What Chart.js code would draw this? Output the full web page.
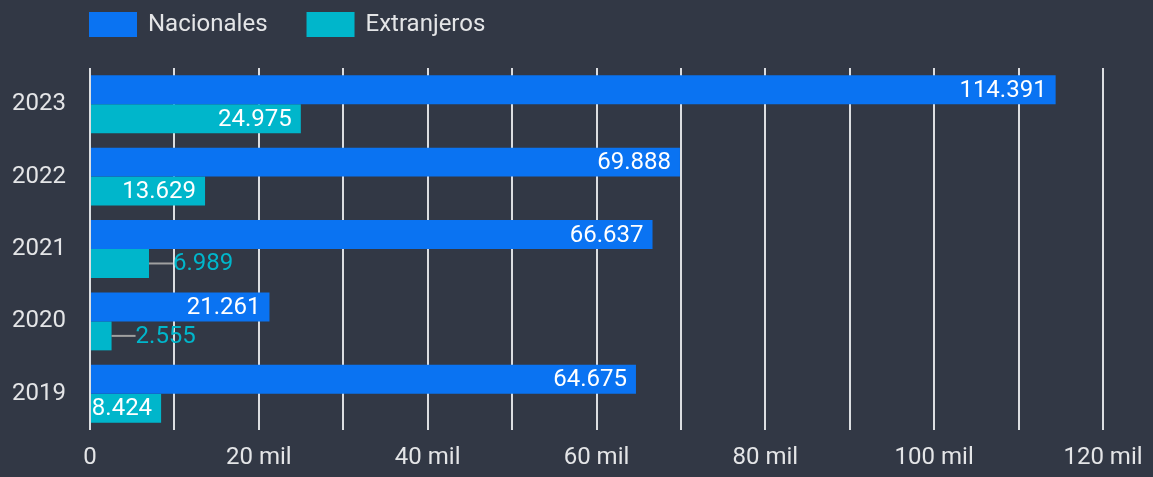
<!DOCTYPE html>
<html>
<head>
<meta charset="utf-8">
<script src="https://cdn.jsdelivr.net/npm/chart.js@4"></script>
<style>
  html, body { margin: 0; padding: 0; background: #323845; }
  #wrap { width: 1153px; height: 477px; position: relative; }
</style>
</head>
<body>
<div id="wrap"><canvas id="chart"></canvas></div>
<script>
// Data
const years = ['2023', '2022', '2021', '2020', '2019'];
const nacionales = [114391, 69888, 66637, 21261, 64675];
const extranjeros = [24975, 13629, 6989, 2555, 8424];
const seriesNames = ['Nacionales', 'Extranjeros'];
const seriesColors = ['#0a73f2', '#00b6cb'];

const FONT = 'Roboto, "Noto Sans", sans-serif';
const TEXT_COLOR = '#e4e5e7';

// 114391 -> "114.391"
function fmtNumber(v) {
    return String(Math.round(v)).replace(/\B(?=(\d{3})+(?!\d))/g, '.');
}

function fmtTick(v) {
    if (v === 0) return '0';
    if (v % 20000 !== 0) return '';
    return (v / 1000) + ' mil';
}

// Legend drawn at the top left
const topLegend = {
    id: 'topLegend',
    afterDraw(chart) {
        const ctx = chart.ctx;
        ctx.save();
        ctx.font = '24px ' + FONT;
        ctx.textBaseline = 'middle';
        let x = 89;
        chart.data.datasets.forEach(ds => {
            ctx.fillStyle = ds.backgroundColor;
            ctx.fillRect(x, 12, 48, 25);
            x += 48 + 11;
            ctx.fillStyle = TEXT_COLOR;
            ctx.fillText(ds.label, x, 25);
            x += ctx.measureText(ds.label).width + 39;
        });
        ctx.restore();
    }
};

// Value labels at the end of each bar
const barLabels = {
    id: 'barLabels',
    afterDatasetsDraw(chart) {
        const ctx = chart.ctx;
        ctx.save();
        ctx.font = '24px ' + FONT;
        ctx.textBaseline = 'middle';
        chart.data.datasets.forEach((ds, i) => {
            const meta = chart.getDatasetMeta(i);
            meta.data.forEach((bar, j) => {
                const text = fmtNumber(ds.data[j]);
                const w = ctx.measureText(text).width;
                const len = bar.x - bar.base;
                if (w + 9 <= len) {
                    ctx.textAlign = 'right';
                    ctx.fillStyle = '#ffffff';
                    ctx.fillText(text, bar.x - 9, bar.y + 1);
                } else {
                    ctx.strokeStyle = '#a0a0a0';
                    ctx.lineWidth = 2;
                    ctx.beginPath();
                    ctx.moveTo(bar.x, bar.y);
                    ctx.lineTo(bar.x + 24, bar.y);
                    ctx.stroke();
                    ctx.textAlign = 'left';
                    ctx.fillStyle = ds.backgroundColor;
                    ctx.fillText(text, bar.x + 24, bar.y + 1);
                }
            });
        });
        ctx.restore();
    }
};

new Chart(document.getElementById('chart'), {
    type: 'bar',
    data: {
        labels: years,
        datasets: [
            {
                label: seriesNames[0],
                data: nacionales,
                backgroundColor: seriesColors[0],
                barPercentage: 1,
                categoryPercentage: 0.8
            },
            {
                label: seriesNames[1],
                data: extranjeros,
                backgroundColor: seriesColors[1],
                barPercentage: 1,
                categoryPercentage: 0.8
            }
        ]
    },
    options: {
        indexAxis: 'y',
        responsive: true,
        maintainAspectRatio: false,
        animation: false,
        layout: {
            padding: { top: 68, right: 50, bottom: 0, left: 0 }
        },
        plugins: {
            legend: { display: false },
            tooltip: { enabled: false }
        },
        scales: {
            x: {
                min: 0,
                max: 120000,
                grid: {
                    color: '#dcdee1',
                    lineWidth: 2,
                    drawTicks: false
                },
                border: { display: false },
                ticks: {
                    stepSize: 10000,
                    autoSkip: false,
                    maxRotation: 0,
                    padding: 14,
                    color: TEXT_COLOR,
                    font: { family: FONT, size: 24 },
                    callback: v => fmtTick(v)
                },
                afterFit(scale) {
                    scale.height = 47;
                    scale.paddingLeft = 0;
                    scale.paddingRight = 0;
                }
            },
            y: {
                grid: { display: false, drawTicks: false },
                border: { display: false },
                ticks: {
                    padding: 24,
                    color: TEXT_COLOR,
                    font: { family: FONT, size: 24 }
                },
                afterFit(scale) { scale.width = 90; }
            }
        }
    },
    plugins: [topLegend, barLabels]
});
</script>
</body>
</html>
